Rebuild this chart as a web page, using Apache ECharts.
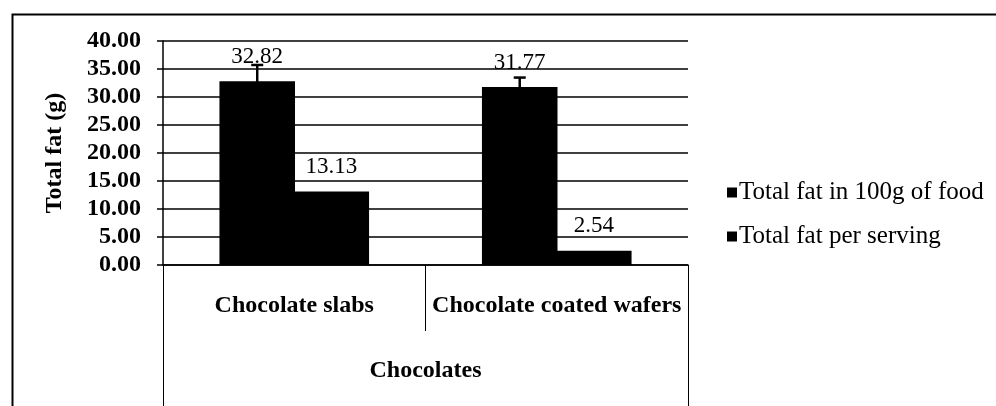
<!DOCTYPE html>
<html>
<head>
<meta charset="utf-8">
<script src="https://cdn.jsdelivr.net/npm/echarts@6/dist/echarts.min.js"></script>
<style>
html,body{margin:0;padding:0;background:#fff;}
#chart{width:996px;height:406px;}
</style>
</head>
<body>
<div id="chart"></div>
<script>
const categories = ['Chocolate slabs', 'Chocolate coated wafers'];
const groupName = ['Chocolates'];
const fatPer100g = [32.82, 31.77];
const fatPerServing = [13.13, 2.54];
const errPer100g = [2.9, 1.7];
const seriesNames = ['Total fat in 100g of food', 'Total fat per serving'];
const yTicks = { min: 0, max: 40, interval: 5 };

const serif = '"Liberation Serif", "Times New Roman", serif';
const GAP = 0.43;
const BARGAP = -0.02;

const chart = echarts.init(document.getElementById('chart'));
const errData = categories.map((c, i) => [i, fatPer100g[i], errPer100g[i]]);

chart.setOption({
  animation: false,
  backgroundColor: '#fff',
  textStyle: { fontFamily: serif, color: '#000' },
  graphic: [{
    type: 'rect', left: 10, top: 12, z: 100,
    shape: { width: 1100, height: 600 },
    style: { fill: 'none', stroke: '#000', lineWidth: 2 }
  }],
  grid: { left: 163, right: 308, top: 41, bottom: 141 },
  legend: {
    orient: 'vertical', left: 722, top: 175, itemGap: 19,
    itemWidth: 10, itemHeight: 10, icon: 'rect',
    data: seriesNames,
    textStyle: { fontFamily: serif, fontSize: 25, color: '#000', lineHeight: 25, padding: [0, 0, 0, -3] }
  },
  xAxis: [{
    type: 'category', data: categories, position: 'bottom',
    axisLine: { lineStyle: { color: '#000', width: 1.5 } },
    axisTick: { show: true, alignWithLabel: false, length: 66, lineStyle: { color: '#000', width: 1 } },
    axisLabel: { margin: 29, fontFamily: serif, fontWeight: 'bold', fontSize: 24, color: '#000', interval: 0 },
    splitLine: { show: false }
  }, {
    type: 'category', data: groupName, position: 'bottom', offset: 0,
    axisLine: { show: false },
    axisTick: { show: true, alignWithLabel: false, length: 160, lineStyle: { color: '#000', width: 1 } },
    axisLabel: { margin: 94, fontFamily: serif, fontWeight: 'bold', fontSize: 24, color: '#000' },
    splitLine: { show: false }
  }],
  yAxis: {
    type: 'value', min: yTicks.min, max: yTicks.max, interval: yTicks.interval,
    name: 'Total fat (g)', nameLocation: 'middle', nameGap: 96,
    nameTextStyle: { fontFamily: serif, fontWeight: 'bold', fontSize: 24, color: '#000' },
    axisLine: { show: true, lineStyle: { color: '#000', width: 1.5 } },
    axisTick: { show: true, inside: false, length: 6, lineStyle: { color: '#000', width: 1.5 } },
    axisLabel: { margin: 22, fontFamily: serif, fontWeight: 'bold', fontSize: 24, color: '#000',
      formatter: v => v.toFixed(2) },
    splitLine: { show: true, lineStyle: { color: '#000', width: 1.5 } }
  },
  series: [{
    name: seriesNames[0], type: 'bar', data: fatPer100g,
    barCategoryGap: (GAP * 100) + '%', barGap: (BARGAP * 100) + '%',
    itemStyle: { color: '#000' },
    label: { show: true, position: 'top', distance: 13, fontFamily: serif, fontSize: 23, color: '#000',
      formatter: p => p.value.toFixed(2) },
    z: 2
  }, {
    name: seriesNames[1], type: 'bar', data: fatPerServing,
    barCategoryGap: (GAP * 100) + '%', barGap: (BARGAP * 100) + '%',
    itemStyle: { color: '#000' },
    label: { show: true, position: 'top', distance: 13, fontFamily: serif, fontSize: 23, color: '#000',
      formatter: p => p.value.toFixed(2) },
    z: 2
  }, {
    type: 'custom', name: 'err', data: errData, z: 3,
    renderItem: function (params, api) {
      const i = api.value(0), v = api.value(1), e = api.value(2);
      const band = api.size([1, 0])[0];
      const w = band * (1 - GAP) / (2 + BARGAP);
      const off = -w * (1 + BARGAP) / 2;
      const top = api.coord([i, v + e]);
      const bot = api.coord([i, v - e]);
      const x = top[0] + off;
      return { type: 'group', children: [
        { type: 'line', shape: { x1: x, y1: top[1], x2: x, y2: bot[1] }, style: { stroke: '#000', lineWidth: 2.5 } },
        { type: 'line', shape: { x1: x - 6, y1: top[1], x2: x + 6, y2: top[1] }, style: { stroke: '#000', lineWidth: 2.5 } },
        { type: 'line', shape: { x1: x - 6, y1: bot[1], x2: x + 6, y2: bot[1] }, style: { stroke: '#000', lineWidth: 2.5 } }
      ]};
    }
  }]
});
</script>
</body>
</html>
